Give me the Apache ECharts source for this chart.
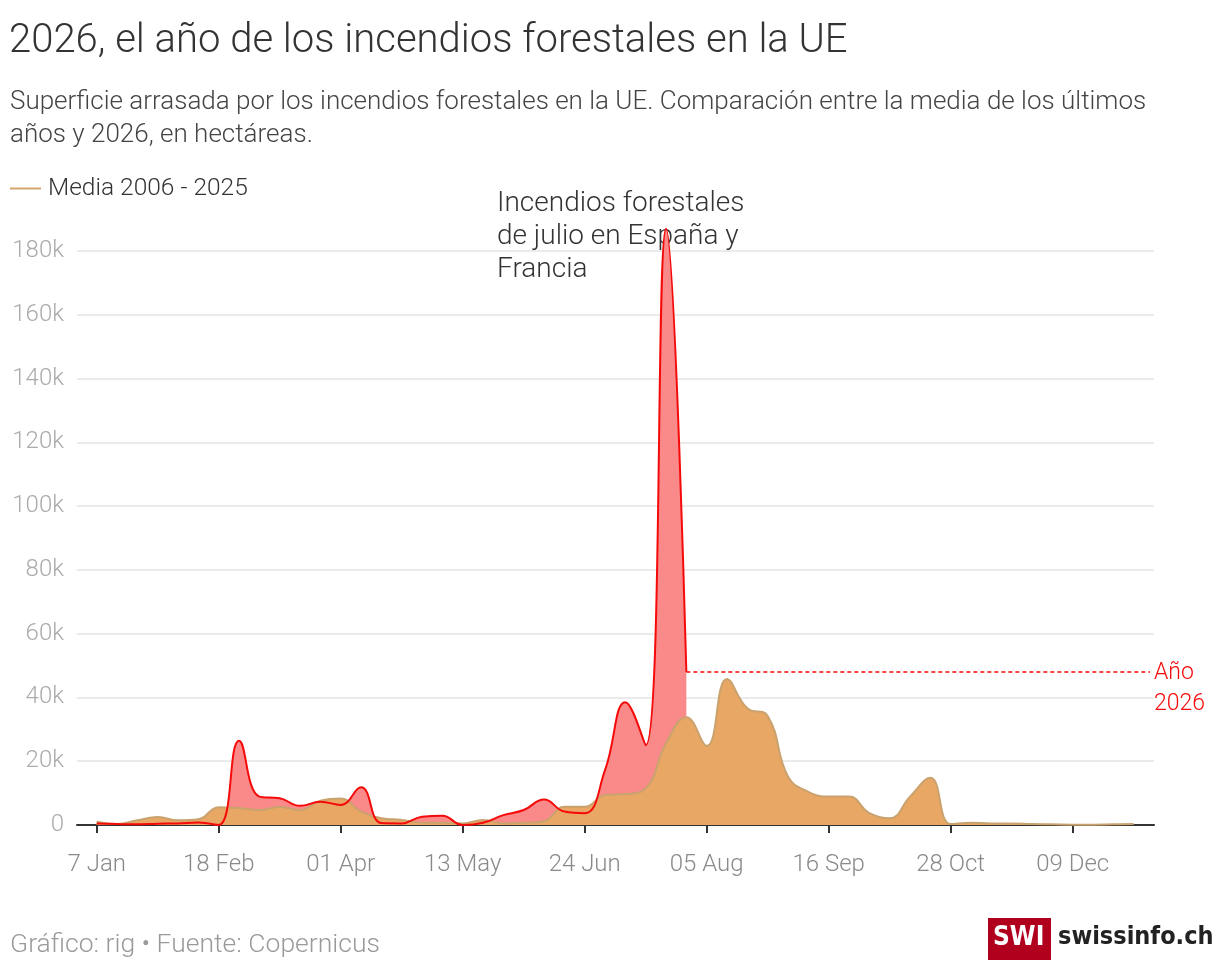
<!DOCTYPE html>
<html>
<head>
<meta charset="utf-8">
<title>2026, el año de los incendios forestales en la UE</title>
<script src="https://cdn.jsdelivr.net/npm/echarts@6.0.0/dist/echarts.min.js"></script>
<style>
  html, body { margin: 0; padding: 0; background: #fff; }
  #chart { width: 1220px; height: 976px; }
</style>
</head>
<body>
<div id="chart"></div>
<script>
// weekly values, in thousands of hectares, from 7 Jan
var media = [1.0, 0.3, 1.5, 2.5, 1.5, 1.8, 5.6, 5.3, 4.7, 5.7, 4.7, 7.6, 8.3, 4.2, 2.1, 1.6,
  0.7, 0.7, 0.5, 1.6, 0.5, 0.7, 1.2, 5.7, 5.7, 9.4, 9.7, 11.5, 25.6, 33.8, 24.8, 45.8,
  36.6, 34.2, 15.2, 10.4, 8.9, 8.9, 3.7, 2.1, 8.9, 14.8, 0.3, 0.7, 0.5, 0.5, 0.3, 0.2,
  0.1, 0.1, 0.2, 0.3];
var ano2026 = [0.5, 0.3, 0.2, 0.4, 0.5, 0.8, 0, 26.4, 8.9, 8.4, 6.0, 7.3, 6.3, 11.8, 0.6, 0.5,
  2.6, 2.9, 0, 0.7, 3.1, 4.7, 8.0, 4.2, 3.7, 17.2, 38.5, 25.0, 187.0, 48.0];
var tickWeeks = [0, 6, 12, 18, 24, 30, 36, 42, 48];
var tickLabels = ["7 Jan", "18 Feb", "01 Apr", "13 May", "24 Jun", "05 Aug", "16 Sep", "28 Oct", "09 Dec"];

var F = "Roboto, 'Noto Sans', sans-serif";

function pts(arr) {
  var out = [];
  for (var i = 0; i < arr.length; i++) out.push([i, arr[i] * 1000]);
  return out;
}

var chart = echarts.init(document.getElementById("chart"), null, { renderer: "canvas" });
var last = ano2026.length - 1;

var option = {
  animation: false,
  backgroundColor: "#fff",
  textStyle: { fontFamily: F },
  grid: { left: 77, right: 66, top: 251, bottom: 151 },
  legend: {
    left: 10, top: 176, padding: 0,
    icon: "rect", itemWidth: 31, itemHeight: 2, itemGap: 8,
    data: [{ name: "Media 2006 - 2025", itemStyle: { color: "#d2a56c" } }],
    textStyle: { fontFamily: F, fontSize: 24.5, color: "#333", fontWeight: 300, padding: [0, 0, 0, 2] }
  },
  xAxis: {
    type: "value",
    min: -0.97, max: 52,
    axisLine: { show: true, onZero: false, lineStyle: { color: "#333", width: 2 } },
    axisTick: { show: true, customValues: tickWeeks, length: 8, lineStyle: { color: "#333", width: 2 } },
    axisLabel: {
      customValues: tickWeeks, margin: 28,
      color: "#8a8a8a", fontSize: 24, fontFamily: F, fontWeight: 300,
      formatter: function (v) { return tickLabels[tickWeeks.indexOf(Math.round(v))] || ""; }
    },
    splitLine: { show: false }
  },
  yAxis: {
    type: "value",
    min: 0, max: 180000, interval: 20000,
    axisLine: { show: false },
    axisTick: { show: false },
    axisLabel: {
      margin: 13, color: "#ababab", fontSize: 24, fontFamily: F, fontWeight: 300,
      formatter: function (v) { return v === 0 ? "0" : (v / 1000) + "k"; }
    },
    splitLine: { lineStyle: { color: "#e4e4e4", width: 1.5 } }
  },
  series: [
    {
      name: "Año 2026 área",
      type: "line",
      smooth: 0.45,
      symbol: "none",
      clip: false,
      z: 1,
      lineStyle: { width: 0 },
      areaStyle: { color: "#fa8a8a", opacity: 1 },
      data: pts(ano2026),
      silent: true
    },
    {
      name: "Media 2006 - 2025",
      type: "line",
      smooth: 0.45,
      symbol: "none",
      z: 2,
      lineStyle: { color: "#c9a26e", width: 2 },
      itemStyle: { color: "#d2a56c" },
      areaStyle: { color: "#e9a765", opacity: 1 },
      data: pts(media)
    },
    {
      name: "Año 2026",
      type: "line",
      smooth: 0.45,
      symbol: "none",
      clip: false,
      z: 3,
      lineStyle: { color: "#f50a0a", width: 2 },
      data: pts(ano2026),
      markLine: {
        silent: true,
        symbol: ["none", "none"],
        lineStyle: { color: "#f50a0a", width: 1.5, type: [4, 3] },
        label: {
          show: true, position: "end", formatter: "Año\n2026",
          color: "#f50a0a", fontSize: 23, fontFamily: F, fontWeight: 300,
          lineHeight: 31, align: "left", verticalAlign: "top", padding: [-14, 0, 0, 0], distance: 4
        },
        data: [[
          { coord: [last, ano2026[last] * 1000] },
          { coord: [51.8, ano2026[last] * 1000] }
        ]]
      }
    }
  ],
  graphic: [
    { type: "text", left: 9, top: 22, style: { text: "2026, el año de los incendios forestales en la UE", font: "300 40px " + F, fill: "#333" } },
    { type: "text", left: 10, top: 86, style: { text: "Superficie arrasada por los incendios forestales en la UE. Comparación entre la media de los últimos\naños y 2026, en hectáreas.", font: "300 26px " + F, fill: "#444", lineHeight: 33 } },
    { type: "text", left: 497, top: 187, style: { text: "Incendios forestales\nde julio en España y\nFrancia", font: "300 28px " + F, fill: "#333", lineHeight: 33 } },
    { type: "text", left: 10, top: 932, style: { text: "Gráfico: rig • Fuente: Copernicus", font: "300 26.5px " + F, fill: "#9a9a9a" } },
    { type: "rect", left: 988, top: 918, shape: { width: 63, height: 42 }, style: { fill: "#b0001e" } },
    { type: "text", left: 993, top: 925, style: { text: "SWI", font: "bold 26px 'DejaVu Sans Condensed', " + F, fill: "#fff" } },
    { type: "text", left: 1058, top: 925, style: { text: "swissinfo.ch", font: "bold 25px 'DejaVu Sans Condensed', " + F, fill: "#222" } }
  ]
};

chart.setOption(option);
</script>
</body>
</html>
